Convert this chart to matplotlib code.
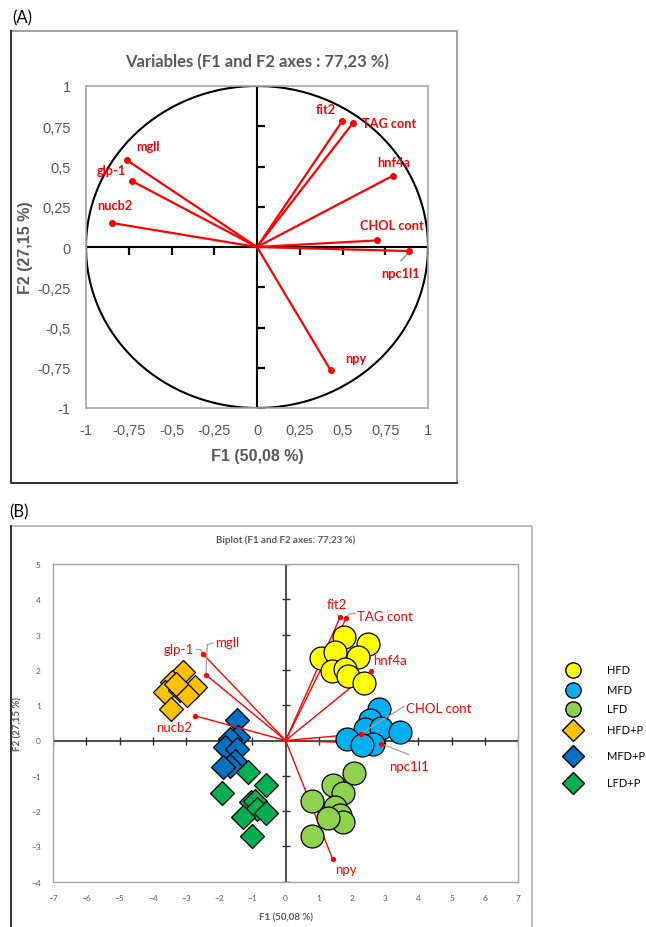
import matplotlib
matplotlib.use("Agg")
import matplotlib.pyplot as plt
from matplotlib.patches import Ellipse
from matplotlib.lines import Line2D

# ---------------- data ----------------
variables = ["fit2", "TAG cont", "hnf4a", "CHOL cont", "npc1l1", "npy", "mgll", "glp-1", "nucb2"]
# panel A: correlation circle loadings
load_f1 = [0.497, 0.561, 0.795, 0.700, 0.887, 0.431, -0.762, -0.731, -0.848]
load_f2 = [0.780, 0.770, 0.443, 0.041, -0.025, -0.766, 0.540, 0.410, 0.149]
# panel B: biplot variable vectors
bi_f1 = [1.64, 1.82, 2.56, 2.26, 2.88, 1.42, -2.40, -2.50, -2.73]
bi_f2 = [3.49, 3.46, 1.96, 0.19, -0.09, -3.37, 1.86, 2.46, 0.70]

groups = ["HFD", "MFD", "LFD", "HFD+P", "MFD+P", "LFD+P"]
hfd_x = [1.77, 2.47, 1.06, 1.49, 2.19, 1.39, 1.79, 1.89, 2.36]
hfd_y = [2.93, 2.74, 2.33, 2.50, 2.36, 1.96, 2.03, 1.84, 1.63]
mfd_x = [2.82, 2.54, 2.39, 2.86, 3.44, 1.86, 2.62, 2.29]
mfd_y = [0.90, 0.57, 0.33, 0.35, 0.24, 0.05, -0.09, -0.14]
lfd_x = [2.06, 1.43, 1.74, 0.80, 1.49, 1.64, 1.72, 1.27, 0.78]
lfd_y = [-0.91, -1.25, -1.48, -1.70, -1.89, -2.12, -2.31, -2.20, -2.71]
hfdp_x = [-3.08, -3.43, -2.73, -3.64, -3.18, -2.98, -3.46, -3.30]
hfdp_y = [1.94, 1.65, 1.51, 1.37, 1.42, 1.28, 0.90, 1.60]
mfdp_x = [-1.48, -1.43, -1.68, -1.83, -1.48, -1.53, -1.68, -1.88]
mfdp_y = [0.57, 0.09, 0.05, -0.19, -0.24, -0.57, -0.71, -0.75]
lfdp_x = [-1.12, -0.60, -1.92, -1.05, -0.91, -0.86, -0.58, -1.28, -1.00]
lfdp_y = [-0.90, -1.25, -1.48, -1.75, -1.70, -1.93, -2.05, -2.17, -2.71]

a_ticks = [-1, -0.75, -0.5, -0.25, 0, 0.25, 0.5, 0.75, 1]
a_ticklabels = ["-1", "-0,75", "-0,5", "-0,25", "0", "0,25", "0,5", "0,75", "1"]
b_xticks = list(range(-7, 8))
b_yticks = list(range(-4, 6))

# ---------------- styles ----------------
W, H = 646, 928
RED = "#FF0000"
GRAY = "#595959"
BORDER = "#A6A6A6"
CAL = ["Lato", "DejaVu Sans"]
ARIAL = ["Liberation Sans", "DejaVu Sans"]

series = [
    (hfd_x, hfd_y, "o", "#FFFF00"),
    (mfd_x, mfd_y, "o", "#00B0F0"),
    (lfd_x, lfd_y, "o", "#92D050"),
    (hfdp_x, hfdp_y, "D", "#FFC000"),
    (mfdp_x, mfdp_y, "D", "#0070C0"),
    (lfdp_x, lfdp_y, "D", "#00B050"),
]

fig = plt.figure(figsize=(W / 100, H / 100), dpi=100)


def axrect(l, t, r, b):
    return [l / W, 1 - b / H, (r - l) / W, (b - t) / H]


# ================= Panel A =================
axA = fig.add_axes(axrect(86, 87, 428, 409))
axA.set_xlim(-1, 1)
axA.set_ylim(-1, 1)
for s in axA.spines.values():
    s.set_color(BORDER)
    s.set_linewidth(1.2)
axA.set_xticks(a_ticks)
axA.set_xticklabels(a_ticklabels)
axA.set_yticks(a_ticks)
axA.set_yticklabels(a_ticklabels)
axA.tick_params(length=0, labelsize=10.5, colors=GRAY, pad=11)
for lab in axA.get_xticklabels() + axA.get_yticklabels():
    lab.set_family(ARIAL)
axA.axhline(0, color="black", lw=1.5, zorder=2)
axA.axvline(0, color="black", lw=1.5, zorder=2)
nz = [t for t in a_ticks if t != 0]
axA.plot(nz, [0] * len(nz), ls="none", marker=3, ms=6, mew=1.6, color="black", zorder=2)
axA.plot([0] * len(nz), nz, ls="none", marker=1, ms=6, mew=1.6, color="black", zorder=2)
axA.add_patch(Ellipse((0, 0), 2, 2, fill=False, ec="black", lw=1.5, zorder=2))
for x, y in zip(load_f1, load_f2):
    axA.plot([0, x], [0, y], color=RED, lw=1.6, zorder=3)
    axA.plot([x], [y], "o", color=RED, ms=4, zorder=4)

labA = {
    "fit2": (0.405, 0.86, "center"),
    "TAG cont": (0.615, 0.77, "left"),
    "hnf4a": (0.80, 0.53, "center"),
    "CHOL cont": (0.79, 0.135, "center"),
    "npc1l1": (0.84, -0.16, "center"),
    "npy": (0.58, -0.69, "center"),
    "mgll": (-0.64, 0.625, "center"),
    "glp-1": (-0.85, 0.48, "center"),
    "nucb2": (-0.834, 0.26, "center"),
}
for v in variables:
    x, y, ha = labA[v]
    axA.text(x, y, v, color=RED, fontsize=9.2, fontweight="bold", family=CAL,
             ha=ha, va="center", zorder=5)
i = variables.index("npc1l1")
axA.plot([load_f1[i] - 0.045, load_f1[i] + 0.01], [load_f2[i] - 0.06, load_f2[i] - 0.0],
         color="#A0A0A0", lw=1.2, zorder=3)

axA.set_title("Variables (F1 and F2 axes : 77,23 %)", fontsize=12, fontweight="bold",
              color=GRAY, family=CAL, pad=14)
axA.set_xlabel("F1 (50,08 %)", fontsize=11.5, fontweight="bold", color=GRAY, family=ARIAL,
               labelpad=8)
axA.set_ylabel("F2 (27,15 %)", fontsize=11.5, fontweight="bold", color=GRAY, family=ARIAL,
               labelpad=3)

# ================= Panel B =================
axB = fig.add_axes(axrect(53.3, 565, 518, 882.7))
axB.set_xlim(-7, 7)
axB.set_ylim(-4, 5)
for s in axB.spines.values():
    s.set_color(BORDER)
    s.set_linewidth(1.0)
axB.set_xticks(b_xticks)
axB.set_yticks(b_yticks)
axB.tick_params(length=0, labelsize=6, colors=GRAY, pad=9)
for lab in axB.get_xticklabels() + axB.get_yticklabels():
    lab.set_family(CAL)
axB.axhline(0, color="#303030", lw=1.2, zorder=1)
axB.axvline(0, color="#303030", lw=1.2, zorder=1)
bx = [t for t in b_xticks if t != 0]
by = [t for t in b_yticks if t != 0]
axB.plot(bx, [0] * len(bx), ls="none", marker="|", ms=6, mew=1.0, color="#303030", zorder=1)
axB.plot([0] * len(by), by, ls="none", marker="_", ms=6, mew=1.0, color="#303030", zorder=1)

for (xs, ys, m, c), g in zip(series, groups):
    if m == "D":
        axB.plot(xs, ys, ls="none", marker="D", ms=12.5, mfc=c, mec="black", mew=0.9, zorder=2)
for x, y in zip(bi_f1, bi_f2):
    axB.plot([0, x], [0, y], color=RED, lw=1.0, zorder=3)
for (xs, ys, m, c), g in zip(series, groups):
    if m == "o":
        axB.plot(xs, ys, ls="none", marker="o", ms=16.5, mfc=c, mec="black", mew=0.9, zorder=4)
axB.plot(bi_f1, bi_f2, ls="none", marker="o", ms=2.8, color=RED, zorder=6)

labB = {
    "fit2": (1.53, 3.87, "center"),
    "TAG cont": (2.15, 3.54, "left"),
    "hnf4a": (2.63, 2.28, "left"),
    "CHOL cont": (3.62, 0.93, "left"),
    "npc1l1": (3.12, -0.71, "left"),
    "npy": (1.50, -3.63, "left"),
    "mgll": (-2.12, 2.78, "left"),
    "glp-1": (-2.76, 2.58, "right"),
    "nucb2": (-3.37, 0.37, "center"),
}
for v in variables:
    x, y, ha = labB[v]
    axB.text(x, y, v, color=RED, fontsize=9.5, family=CAL, ha=ha, va="center", zorder=7)

LEAD = "#A0A0A0"
def lead(v, xs, ys):
    axB.plot(xs, ys, color=LEAD, lw=0.9, zorder=5)

i = variables.index
lead("fit2", [1.56, bi_f1[i("fit2")]], [3.57, bi_f2[i("fit2")]])
lead("TAG cont", [2.10, 1.91, bi_f1[i("TAG cont")]], [3.60, 3.58, bi_f2[i("TAG cont")]])
lead("CHOL cont", [3.57, bi_f1[i("CHOL cont")]], [0.97, bi_f2[i("CHOL cont")]])
lead("npc1l1", [3.71, bi_f1[i("npc1l1")]], [-0.40, bi_f2[i("npc1l1")]])
lead("glp-1", [-2.68, -2.55, bi_f1[i("glp-1")]], [2.58, 2.57, bi_f2[i("glp-1")]])
lead("mgll", [-2.18, -2.36, bi_f1[i("mgll")]], [2.76, 2.72, bi_f2[i("mgll")]])

axB.set_title("Biplot (F1 and F2 axes: 77,23 %)", fontsize=7, fontweight="bold",
              color=GRAY, family=CAL, pad=16)
axB.set_xlabel("F1 (50,08 %)", fontsize=7, fontweight="bold", color=GRAY, family=CAL, labelpad=8)
axB.set_ylabel("F2 (27,15 %)", fontsize=7, fontweight="bold", color=GRAY, family=CAL, labelpad=6)

# ================= overlay: frames, panel letters, legend =================
ov = fig.add_axes([0, 0, 1, 1], facecolor="none")
ov.set_xlim(0, W)
ov.set_ylim(H, 0)
ov.axis("off")

# frame A
ov.add_line(Line2D([11, 457, 457], [32, 32, 484], color="#909090", lw=1.2))
ov.add_line(Line2D([11, 11, 457], [32, 484, 484], color="#303030", lw=1.4))
# frame B
ov.add_line(Line2D([11, 532, 532], [527, 527, 930], color="#B0B0B0", lw=1.2))
ov.add_line(Line2D([11, 11], [527, 930], color="#303030", lw=1.4))

ov.text(12, 18, "(A)", fontsize=12, family=CAL, color="black", va="center", ha="left")
ov.text(9, 512, "(B)", fontsize=12, family=CAL, color="black", va="center", ha="left")

leg_y = [671, 691, 710, 731, 757, 784]
for (xs, ys, m, c), g, yy in zip(series, groups, leg_y):
    ms = 11 if m == "o" else 11
    ov.plot([573], [yy], ls="none", marker=m, ms=ms, mfc=c, mec="black", mew=1.0)
    ov.text(607, yy, g, fontsize=8, family=CAL, color="black", va="center", ha="left")

fig.savefig("out.png", dpi=100, facecolor="white")
